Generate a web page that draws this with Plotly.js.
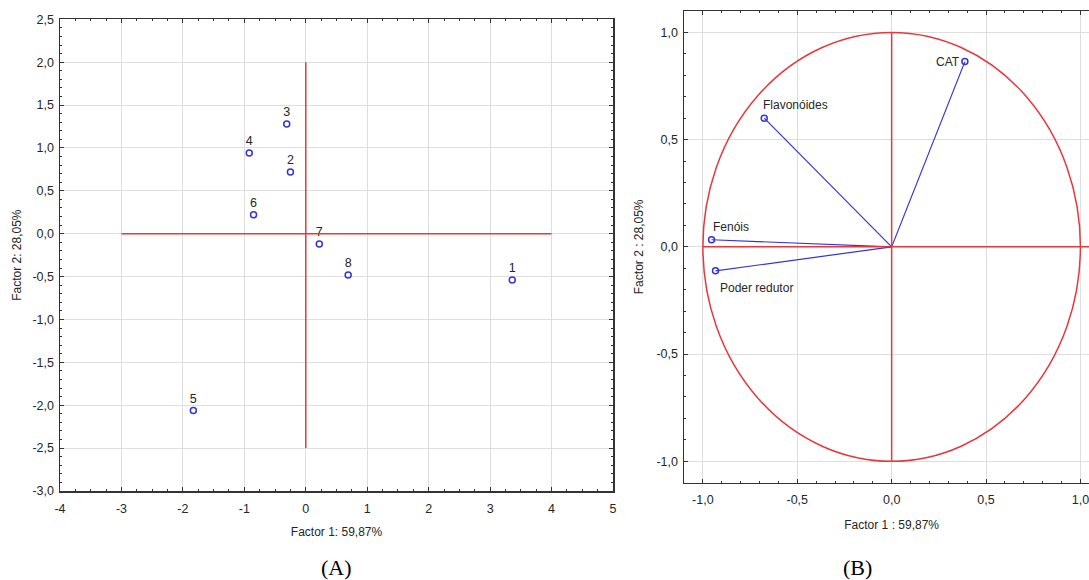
<!DOCTYPE html>
<html><head><meta charset="utf-8">
<script src="https://cdn.plot.ly/plotly-3.0.1.min.js"></script>
<style>html,body{margin:0;padding:0;overflow:hidden;background:#fff}#chart{width:1100px;height:580px}</style>
</head><body><div id="chart"></div>
<script>
// Panel A: scores
const sampleLabels = ['1','2','3','4','5','6','7','8'];
const factor1Scores = [3.36, -0.25, -0.31, -0.92, -1.83, -0.85, 0.22, 0.69];
const factor2Scores = [-0.54, 0.72, 1.28, 0.94, -2.06, 0.22, -0.12, -0.48];
// Panel B: loadings
const variableLabels = ['Flavonóides', 'Fenóis', 'Poder redutor', 'CAT'];
const factor1Loadings = [-0.675, -0.954, -0.933, 0.388];
const factor2Loadings = [0.60, 0.033, -0.112, 0.864];
// tick labels
const ax1Vals = [-4,-3,-2,-1,0,1,2,3,4,5];
const ax1Text = ['-4','-3','-2','-1','0','1','2','3','4','5'];
const ay1Vals = [-3,-2.5,-2,-1.5,-1,-0.5,0,0.5,1,1.5,2,2.5];
const ay1Text = ['-3,0','-2,5','-2,0','-1,5','-1,0','-0,5','0,0','0,5','1,0','1,5','2,0','2,5'];
const ax2Vals = [-1,-0.5,0,0.5,1];
const ax2Text = ['-1,0','-0,5','0,0','0,5','1,0'];
const ay2Vals = [-1,-0.5,0,0.5,1];
const ay2Text = ['-1,0','-0,5','0,0','0,5','1,0'];

const W = 1100, H = 580;
const blue = '#3434d4', red = '#e8383d', txt = '#262626';
const font = {family:'Liberation Sans, Arial, sans-serif', size:12, color:txt};

const traces = [];
traces.push({
  x: factor1Scores, y: factor2Scores, type:'scatter', mode:'markers+text',
  text: sampleLabels, textposition:'top center', textfont:{...font, size:12.5},
  marker:{symbol:'circle-open', size:6, color:blue, line:{width:1.5, color:blue}},
  xaxis:'x', yaxis:'y', hoverinfo:'skip', cliponaxis:false
});
variableLabels.forEach((lab, i) => {
  traces.push({
    x:[0, factor1Loadings[i]], y:[0, factor2Loadings[i]], type:'scatter', mode:'lines',
    line:{color:blue, width:1.2}, xaxis:'x2', yaxis:'y2', hoverinfo:'skip'
  });
});
traces.push({
  x: factor1Loadings, y: factor2Loadings, type:'scatter', mode:'markers',
  marker:{symbol:'circle-open', size:6, color:blue, line:{width:1.5, color:blue}},
  xaxis:'x2', yaxis:'y2', hoverinfo:'skip'
});

const labelOffsets = [
  {xanchor:'left', xshift:-3, yshift:13},
  {xanchor:'left', xshift:-1, yshift:13},
  {xanchor:'left', xshift:2, yshift:-17},
  {xanchor:'right', xshift:-3, yshift:0}
];
const annotations = variableLabels.map((lab, i) => ({
  x: factor1Loadings[i], y: factor2Loadings[i], xref:'x2', yref:'y2', text: lab,
  showarrow:false, font:font, xanchor:labelOffsets[i].xanchor, yanchor:'middle',
  xshift:labelOffsets[i].xshift, yshift:labelOffsets[i].yshift
}));
annotations.push({text:'(A)', xref:'paper', yref:'paper', x:336/W, y:1-567/H, showarrow:false,
  font:{family:'Liberation Serif, Times New Roman, serif', size:22, color:'#000'}, xanchor:'center', yanchor:'middle'});
annotations.push({text:'(B)', xref:'paper', yref:'paper', x:857/W, y:1-567/H, showarrow:false,
  font:{family:'Liberation Serif, Times New Roman, serif', size:22, color:'#000'}, xanchor:'center', yanchor:'middle'});

const axisCommon = {
  showline:true, linecolor:'#333', linewidth:1.5, mirror:'ticks', ticks:'inside', ticklen:4,
  tickcolor:'#333', tickwidth:1, showgrid:true, gridcolor:'#dedede', gridwidth:1,
  zeroline:false, tickfont:{...font, size:12.5}, tickmode:'array', fixedrange:true
};
const minorTicks = (d) => ({dtick:d, ticks:'inside', ticklen:2, tickcolor:'#333', showgrid:false});

const layout = {
  width:W, height:H, margin:{l:0, r:0, t:0, b:0}, paper_bgcolor:'#fff', plot_bgcolor:'#fff',
  showlegend:false, font:font,
  xaxis:{...axisCommon, domain:[60/W, 613/W], range:[-4,5], tickvals:ax1Vals, ticktext:ax1Text,
    minor:minorTicks(0.25), ticklabelstandoff:5,
    title:{text:'Factor 1: 59,87%', font:font, standoff:13}, anchor:'y'},
  yaxis:{...axisCommon, domain:[1-491/H, 1-19.3/H], range:[-3,2.5], tickvals:ay1Vals, ticktext:ay1Text,
    minor:minorTicks(0.1), ticklabelstandoff:2,
    title:{text:'Factor 2: 28,05%', font:font, standoff:8}, anchor:'x'},
  xaxis2:{...axisCommon, domain:[684/W, 1099.3/W], range:[-1.1,1.1], tickvals:ax2Vals, ticktext:ax2Text,
    minor:minorTicks(0.1), ticklabelstandoff:5,
    title:{text:'Factor 1 : 59,87%', font:font, standoff:14}, anchor:'y2'},
  yaxis2:{...axisCommon, domain:[1-482.7/H, 1-11/H], range:[-1.1,1.1], tickvals:ay2Vals, ticktext:ay2Text,
    minor:minorTicks(0.1), ticklabelstandoff:2,
    title:{text:'Factor 2 : 28,05%', font:font, standoff:10}, anchor:'x2'},
  shapes:[
    {type:'line', xref:'x', yref:'y', x0:-3, x1:4, y0:0, y1:0, line:{color:red, width:1.5}},
    {type:'line', xref:'x', yref:'y', x0:0, x1:0, y0:-2.5, y1:2.0, line:{color:red, width:1.5}},
    {type:'circle', xref:'x2', yref:'y2', x0:-1, x1:1, y0:-1, y1:1, line:{color:red, width:1.5}},
    {type:'line', xref:'x2', yref:'y2', x0:-1, x1:1.1, y0:0, y1:0, line:{color:red, width:1.5}},
    {type:'line', xref:'x2', yref:'y2', x0:0, x1:0, y0:-1, y1:1, line:{color:red, width:1.5}}
  ],
  annotations:annotations
};
Plotly.newPlot('chart', traces, layout, {staticPlot:true, displayModeBar:false});
</script></body></html>
